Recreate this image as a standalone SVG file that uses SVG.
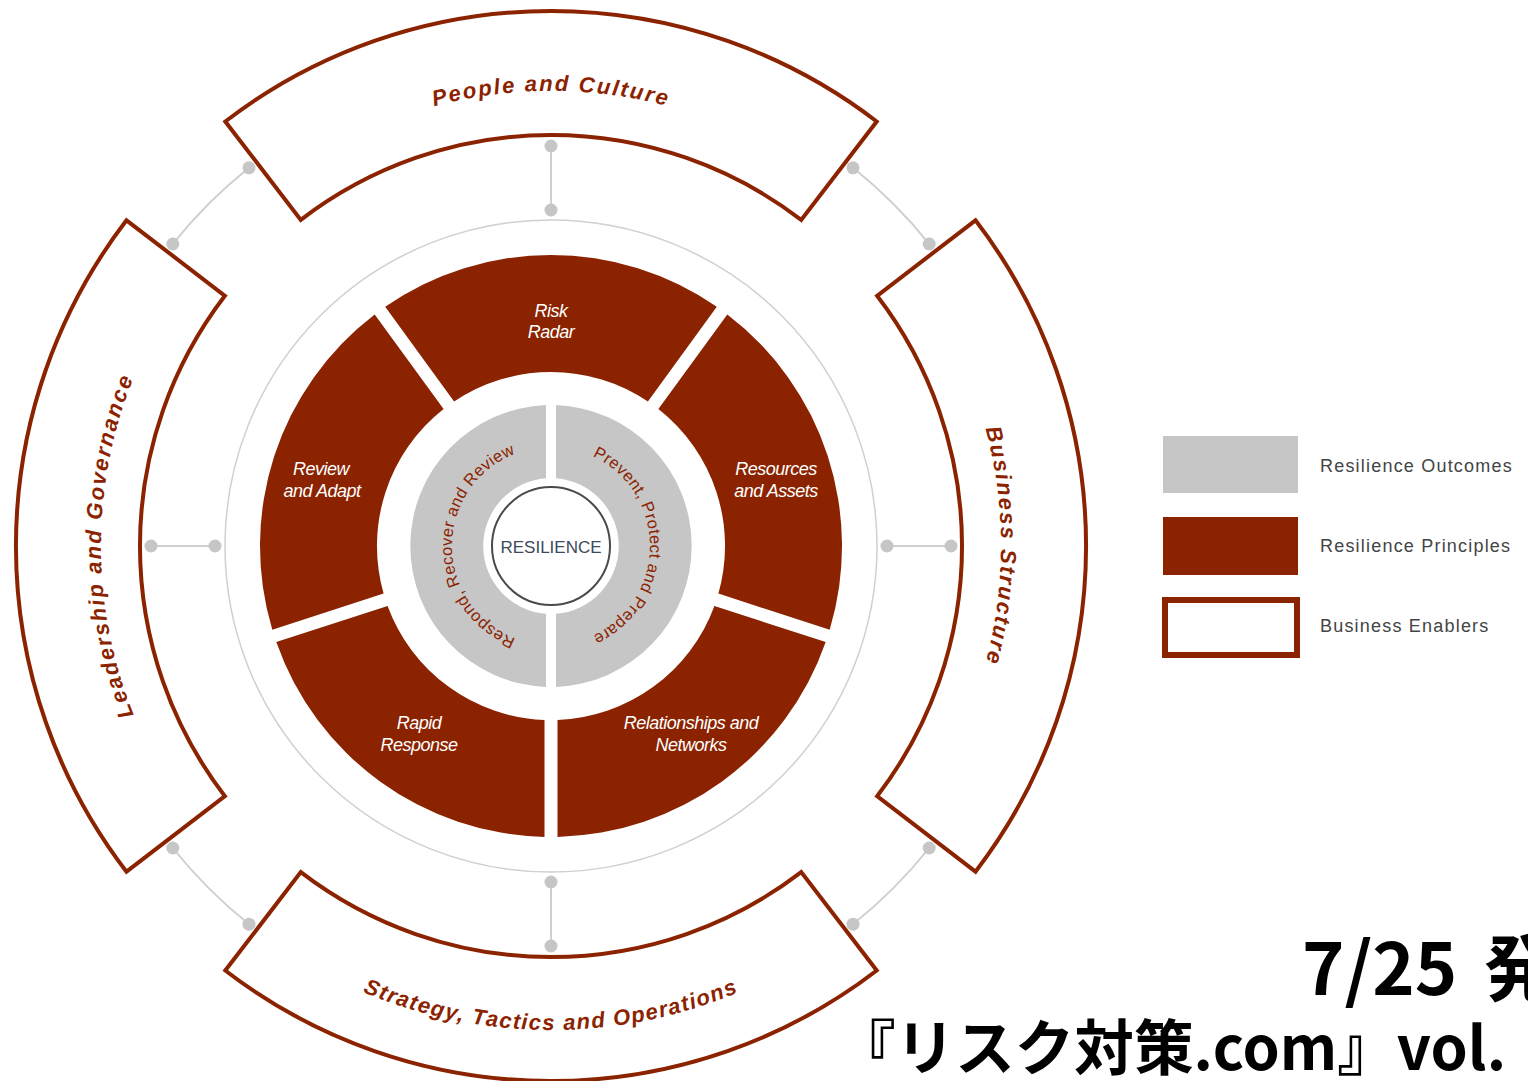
<svg xmlns="http://www.w3.org/2000/svg" width="1528" height="1081" viewBox="0 0 1528 1081">
<style>
.enabler{fill:#fff;stroke:#8B2300;stroke-width:4;stroke-linejoin:miter}
.principle{fill:#8B2300}
.outcome{fill:#C6C6C6}
.entxt{font-family:"Liberation Sans",Arial,sans-serif;font-weight:bold;font-style:italic;font-size:22px;fill:#8B2300;letter-spacing:2px}
.prtxt{font-family:"Liberation Sans",Arial,sans-serif;font-style:italic;font-size:18px;fill:#fff;letter-spacing:-0.5px;text-anchor:middle}
.outtxt{font-family:"Liberation Sans",Arial,sans-serif;font-size:16.5px;fill:#8B2300;letter-spacing:0.4px}
.cline{fill:none;stroke:#CFCFCF;stroke-width:2}
.dot{fill:#C6C6C6}
.legtxt{font-family:"Liberation Sans",Arial,sans-serif;font-size:18px;fill:#444;letter-spacing:1.2px}
.jp{font-family:"Noto Sans CJK JP",sans-serif;font-weight:bold;fill:#000}
</style>
<defs>
<path id="pTop" d="M258.5,197.4 A455,455 0 0 1 843.5,197.4"/>
<path id="pRight" d="M895.7,256.7 A450,450 0 0 1 895.7,835.3"/>
<path id="pLeft" d="M206.3,835.3 A450,450 0 0 1 206.3,256.7"/>
<path id="pBottom" d="M239.9,916.8 A484,484 0 0 0 862.1,916.8"/>
<path id="pInL" d="M551,645 A99,99 0 0 1 551,447"/>
<path id="pInR" d="M551,447 A99,99 0 0 1 551,645"/>
</defs>
<rect width="1528" height="1081" fill="#fff"/>

<g id="connectors">
<circle cx="551" cy="546" r="326" fill="none" stroke="#D0D0D0" stroke-width="1.5"/>
<line class="cline" x1="551" y1="146" x2="551" y2="210"/>
<line class="cline" x1="151" y1="546" x2="215" y2="546"/>
<line class="cline" x1="887" y1="546" x2="951" y2="546"/>
<line class="cline" x1="551" y1="882" x2="551" y2="946"/>
<path class="cline" d="M249,167.8 A484,484 0 0 0 172.8,244"/>
<path class="cline" d="M853,167.8 A484,484 0 0 1 929.2,244"/>
<path class="cline" d="M172.8,848 A484,484 0 0 0 249,924.2"/>
<path class="cline" d="M929.2,848 A484,484 0 0 1 853,924.2"/>
<circle class="dot" cx="551" cy="146" r="6.5"/><circle class="dot" cx="551" cy="210" r="6.5"/>
<circle class="dot" cx="151" cy="546" r="6.5"/><circle class="dot" cx="215" cy="546" r="6.5"/>
<circle class="dot" cx="887" cy="546" r="6.5"/><circle class="dot" cx="951" cy="546" r="6.5"/>
<circle class="dot" cx="551" cy="882" r="6.5"/><circle class="dot" cx="551" cy="946" r="6.5"/>
<circle class="dot" cx="249" cy="167.8" r="6.5"/><circle class="dot" cx="172.8" cy="244" r="6.5"/>
<circle class="dot" cx="853" cy="167.8" r="6.5"/><circle class="dot" cx="929.2" cy="244" r="6.5"/>
<circle class="dot" cx="172.8" cy="848" r="6.5"/><circle class="dot" cx="249" cy="924.2" r="6.5"/>
<circle class="dot" cx="929.2" cy="848" r="6.5"/><circle class="dot" cx="853" cy="924.2" r="6.5"/>
</g>

<g id="enabler-people">
<path class="enabler" d="M225.3,121.5 A535,535 0 0 1 876.7,121.5 L801.2,219.9 A411,411 0 0 0 300.8,219.9 Z"/>
<text class="entxt"><textPath href="#pTop" startOffset="50%" text-anchor="middle">People and Culture</textPath></text>
</g>
<g id="enabler-business">
<path class="enabler" d="M975.5,220.3 A535,535 0 0 1 975.5,871.7 L877.1,796.2 A411,411 0 0 0 877.1,295.8 Z"/>
<text class="entxt"><textPath href="#pRight" startOffset="50%" text-anchor="middle">Business Structure</textPath></text>
</g>
<g id="enabler-strategy">
<path class="enabler" d="M876.7,970.5 A535,535 0 0 1 225.3,970.5 L300.8,872.1 A411,411 0 0 0 801.2,872.1 Z"/>
<text class="entxt" style="letter-spacing:1.4px"><textPath href="#pBottom" startOffset="50%" text-anchor="middle">Strategy, Tactics and Operations</textPath></text>
</g>
<g id="enabler-leadership">
<path class="enabler" d="M126.5,871.7 A535,535 0 0 1 126.5,220.3 L224.9,295.8 A411,411 0 0 0 224.9,796.2 Z"/>
<text class="entxt"><textPath href="#pLeft" startOffset="50%" text-anchor="middle">Leadership and Governance</textPath></text>
</g>

<g id="principle-risk-radar">
<path class="principle" d="M385.2,306.8 A291,291 0 0 1 716.8,306.8 L647.9,401.5 A174,174 0 0 0 454.1,401.5 Z"/>
<text class="prtxt" x="551" y="317">Risk</text>
<text class="prtxt" x="551" y="338">Radar</text>
</g>
<g id="principle-resources">
<path class="principle" d="M727.3,314.5 A291,291 0 0 1 829.7,629.7 L718.4,593.6 A174,174 0 0 0 658.4,409.1 Z"/>
<text class="prtxt" x="776" y="475">Resources</text>
<text class="prtxt" x="776" y="497">and Assets</text>
</g>
<g id="principle-relationships">
<path class="principle" d="M825.7,642.1 A291,291 0 0 1 557.5,836.9 L557.5,719.9 A174,174 0 0 0 714.4,605.9 Z"/>
<text class="prtxt" x="691" y="729">Relationships and</text>
<text class="prtxt" x="691" y="751">Networks</text>
</g>
<g id="principle-rapid">
<path class="principle" d="M544.5,836.9 A291,291 0 0 1 276.3,642.1 L387.6,605.9 A174,174 0 0 0 544.5,719.9 Z"/>
<text class="prtxt" x="419" y="729">Rapid</text>
<text class="prtxt" x="419" y="751">Response</text>
</g>
<g id="principle-review">
<path class="principle" d="M272.3,629.7 A291,291 0 0 1 374.7,314.5 L443.6,409.1 A174,174 0 0 0 383.6,593.6 Z"/>
<text class="prtxt" x="321" y="475">Review</text>
<text class="prtxt" x="322" y="497">and Adapt</text>
</g>

<g id="outcome-prevent">
<path class="outcome" d="M556,405.1 A141,141 0 0 1 556,686.9 L556,613.8 A68,68 0 0 0 556,478.2 Z"/>
<text class="outtxt"><textPath href="#pInR" startOffset="50%" text-anchor="middle">Prevent, Protect and Prepare</textPath></text>
</g>
<g id="outcome-respond">
<path class="outcome" d="M546,686.9 A141,141 0 0 1 546,405.1 L546,478.2 A68,68 0 0 0 546,613.8 Z"/>
<text class="outtxt"><textPath href="#pInL" startOffset="50%" text-anchor="middle">Respond, Recover and Review</textPath></text>
</g>

<g id="resilience">
<circle cx="551" cy="546" r="59" fill="#fff" stroke="#4A4A4A" stroke-width="2"/>
<text x="551" y="553" text-anchor="middle" font-family="Liberation Sans, Arial, sans-serif" font-size="17" fill="#3C4A5C">RESILIENCE</text>
</g>

<g id="legend">
<rect x="1163" y="436" width="135" height="57" fill="#C6C6C6"/>
<rect x="1163" y="517" width="135" height="58" fill="#8B2300"/>
<rect x="1165" y="600" width="132" height="55" fill="#fff" stroke="#8B2300" stroke-width="6"/>
<text class="legtxt" x="1320" y="472">Resilience Outcomes</text>
<text class="legtxt" x="1320" y="552">Resilience Principles</text>
<text class="legtxt" x="1320" y="632">Business Enablers</text>
</g>

<g id="caption">
<text class="jp" y="995" font-size="72"><tspan x="1302">7/25</tspan><tspan x="1484">発</tspan></text>
<text class="jp" x="836" y="1070" font-size="60" textLength="670" lengthAdjust="spacingAndGlyphs">『リスク対策.com』vol.</text>
</g>
</svg>
